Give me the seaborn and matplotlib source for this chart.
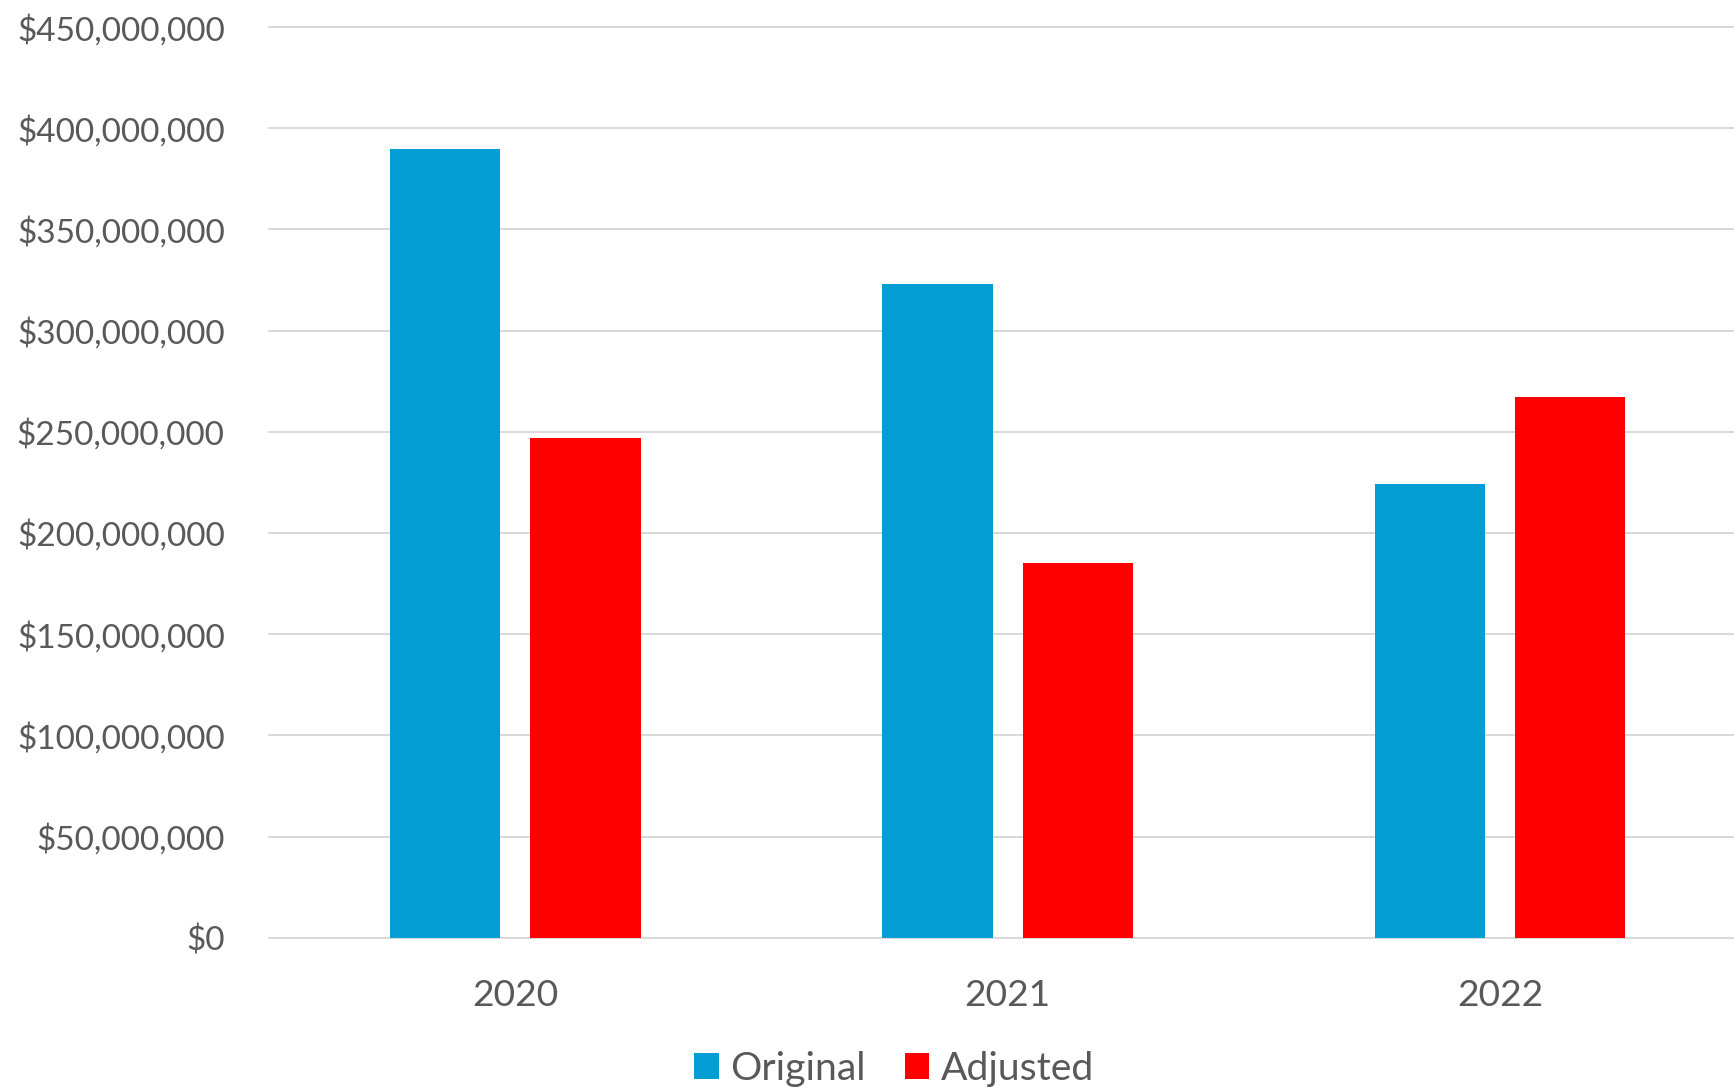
import matplotlib
matplotlib.use("Agg")
import matplotlib.pyplot as plt
import matplotlib.ticker as mticker
import seaborn as sns
import pandas as pd

years = ["2020", "2021", "2022"]
series_names = ["Original", "Adjusted"]
original = [390_000_000, 323_000_000, 224_300_000]
adjusted = [247_200_000, 185_000_000, 267_300_000]
y_ticks = [0, 50_000_000, 100_000_000, 150_000_000, 200_000_000,
           250_000_000, 300_000_000, 350_000_000, 400_000_000, 450_000_000]

colors = ["#059ED4", "#FF0000"]
text_color = "#595959"
grid_color = "#D9D9D9"

df = pd.DataFrame({
    "Year": years * 2,
    "Series": [series_names[0]] * 3 + [series_names[1]] * 3,
    "Value": original + adjusted,
})

sns.set_theme(style="white")
plt.rcParams["font.family"] = ["Lato", "DejaVu Sans"]

fig = plt.figure(figsize=(17.34, 10.89), dpi=100)
ax = fig.add_axes([0.1552, 0.1389, 0.8448, 0.8362])

sns.barplot(data=df, x="Year", y="Value", hue="Series", order=years,
            hue_order=series_names, palette=colors, saturation=1,
            width=0.5704, gap=0.216, linewidth=0, ax=ax)

handles, labels = ax.get_legend_handles_labels()
if ax.get_legend() is not None:
    ax.get_legend().remove()

ax.set_xlim(-0.5, 2.475)
ax.set_ylim(0, 450_000_000)
ax.set_yticks(y_ticks)
ax.yaxis.set_major_formatter(mticker.FuncFormatter(lambda v, p: f"${v:,.0f}"))
ax.set_xlabel("")
ax.set_ylabel("")

for s in ax.spines.values():
    s.set_visible(False)

ax.set_axisbelow(True)
ax.yaxis.grid(True, color=grid_color, linewidth=1.4)
ax.xaxis.grid(False)
for gl in ax.get_ygridlines():
    gl.set_clip_on(False)

ax.tick_params(axis="y", length=0, pad=32, labelsize=24, labelcolor=text_color)
ax.tick_params(axis="x", length=0, pad=30, labelsize=26.8, labelcolor=text_color)

fig.legend(handles, labels, loc="center", bbox_to_anchor=(0.5157, 0.0187),
           ncol=2, frameon=False, fontsize=28.2, labelcolor=text_color,
           handlelength=0.62, handleheight=0.62, handletextpad=0.3,
           columnspacing=1.0, borderpad=0.2)

fig.savefig("out.png", dpi=100, facecolor="white")
